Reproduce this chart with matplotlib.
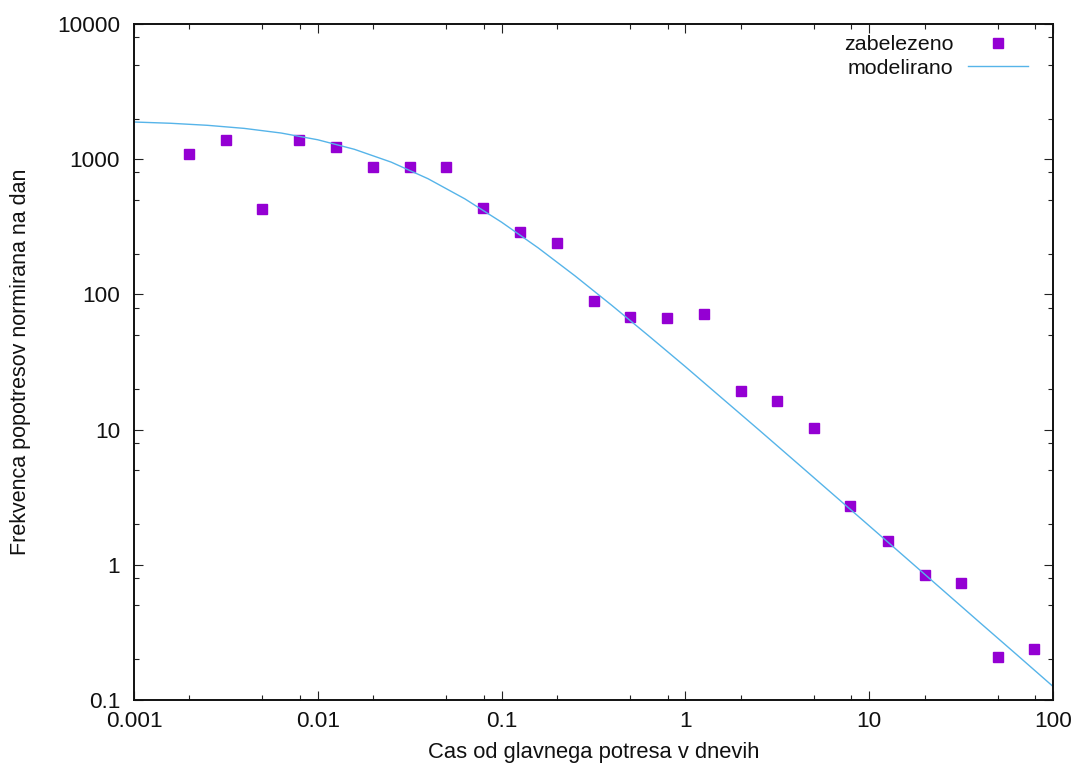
import matplotlib
matplotlib.use("Agg")
import matplotlib.pyplot as plt
from matplotlib.ticker import LogLocator, NullFormatter

plt.rcParams['font.family'] = ['Liberation Sans', 'DejaVu Sans']

# Observed data (zabelezeno)
obs_t = [0.002, 0.00317, 0.005, 0.0079, 0.0126, 0.02, 0.0317, 0.05, 0.079,
         0.126, 0.2, 0.317, 0.5, 0.79, 1.26, 2.0, 3.17, 5.0, 7.9, 12.6,
         20.0, 31.7, 50.0, 79.0]
obs_n = [1087, 1377, 431, 1377, 1224, 869, 880, 869, 438,
         291, 241, 89.7, 68, 67, 71.8, 19.3, 16.3, 10.2, 2.70, 1.51,
         0.845, 0.738, 0.208, 0.239]

# Model curve (modelirano)
mod_t = [0.001, 0.00158, 0.00251, 0.00398, 0.00631, 0.01, 0.0158, 0.0251,
         0.0398, 0.0631, 0.1, 0.158, 0.251, 0.398, 0.631, 1.0, 1.58, 2.51,
         3.98, 6.31, 10.0, 15.8, 25.1, 39.8, 63.1, 100.0]
mod_n = [1884, 1844, 1781, 1690, 1562, 1392, 1184, 951,
         717, 509, 342, 221, 137, 82.9, 49.4, 29.2, 17.1, 9.96,
         5.78, 3.35, 1.943, 1.129, 0.651, 0.376, 0.218, 0.126]

xticks = [0.001, 0.01, 0.1, 1, 10, 100]
xticklabels = ["0.001", "0.01", "0.1", "1", "10", "100"]
yticks = [0.1, 1, 10, 100, 1000, 10000]
yticklabels = ["0.1", "1", "10", "100", "1000", "10000"]

fig = plt.figure(figsize=(10.76, 7.65), dpi=100)
ax = fig.add_axes([134 / 1076, 1 - 700 / 765, (1053 - 134) / 1076, (700 - 24) / 765])

ax.plot(obs_t, obs_n, linestyle='none', marker='s', markersize=7.5,
        color='#9400d3', label='zabelezeno')
ax.plot(mod_t, mod_n, color='#56b4e9', linewidth=1.0, label='modelirano')

ax.set_xscale('log')
ax.set_yscale('log')
ax.set_xlim(0.001, 100)
ax.set_ylim(0.1, 10000)

ax.set_xticks(xticks, xticklabels)
ax.set_yticks(yticks, yticklabels)
ax.xaxis.set_minor_locator(LogLocator(base=10, subs=[2, 5, 8]))
ax.yaxis.set_minor_locator(LogLocator(base=10, subs=[2, 5, 8]))
ax.xaxis.set_minor_formatter(NullFormatter())
ax.yaxis.set_minor_formatter(NullFormatter())

ax.tick_params(which='both', direction='in', top=True, right=True,
               labelsize=16.2, width=0.8, color='#222222', labelcolor='#111111')
ax.tick_params(which='major', length=6.5)
ax.tick_params(which='minor', length=3.6)
ax.tick_params(axis='y', which='major', pad=10)
ax.tick_params(axis='x', which='major', pad=8)

for s in ax.spines.values():
    s.set_linewidth(1.4)
    s.set_color('#111111')

ax.set_xlabel("Cas od glavnega potresa v dnevih", fontsize=15.8, labelpad=7,
              color='#111111')
ax.set_ylabel("Frekvenca popotresov normirana na dan", fontsize=15.5,
              color='#111111')
ax.yaxis.set_label_coords(-0.112, 0.5)

leg = ax.legend(loc='upper right', bbox_to_anchor=(1 - 25 / 919, 1 - 11.0 / 676),
                frameon=False, markerfirst=False, numpoints=1, fontsize=15.4,
                handlelength=2.8, handletextpad=0.7, labelspacing=0.22,
                borderaxespad=0, borderpad=0)
for t in leg.get_texts():
    t.set_color('#111111')

fig.savefig("out.png", dpi=100)
